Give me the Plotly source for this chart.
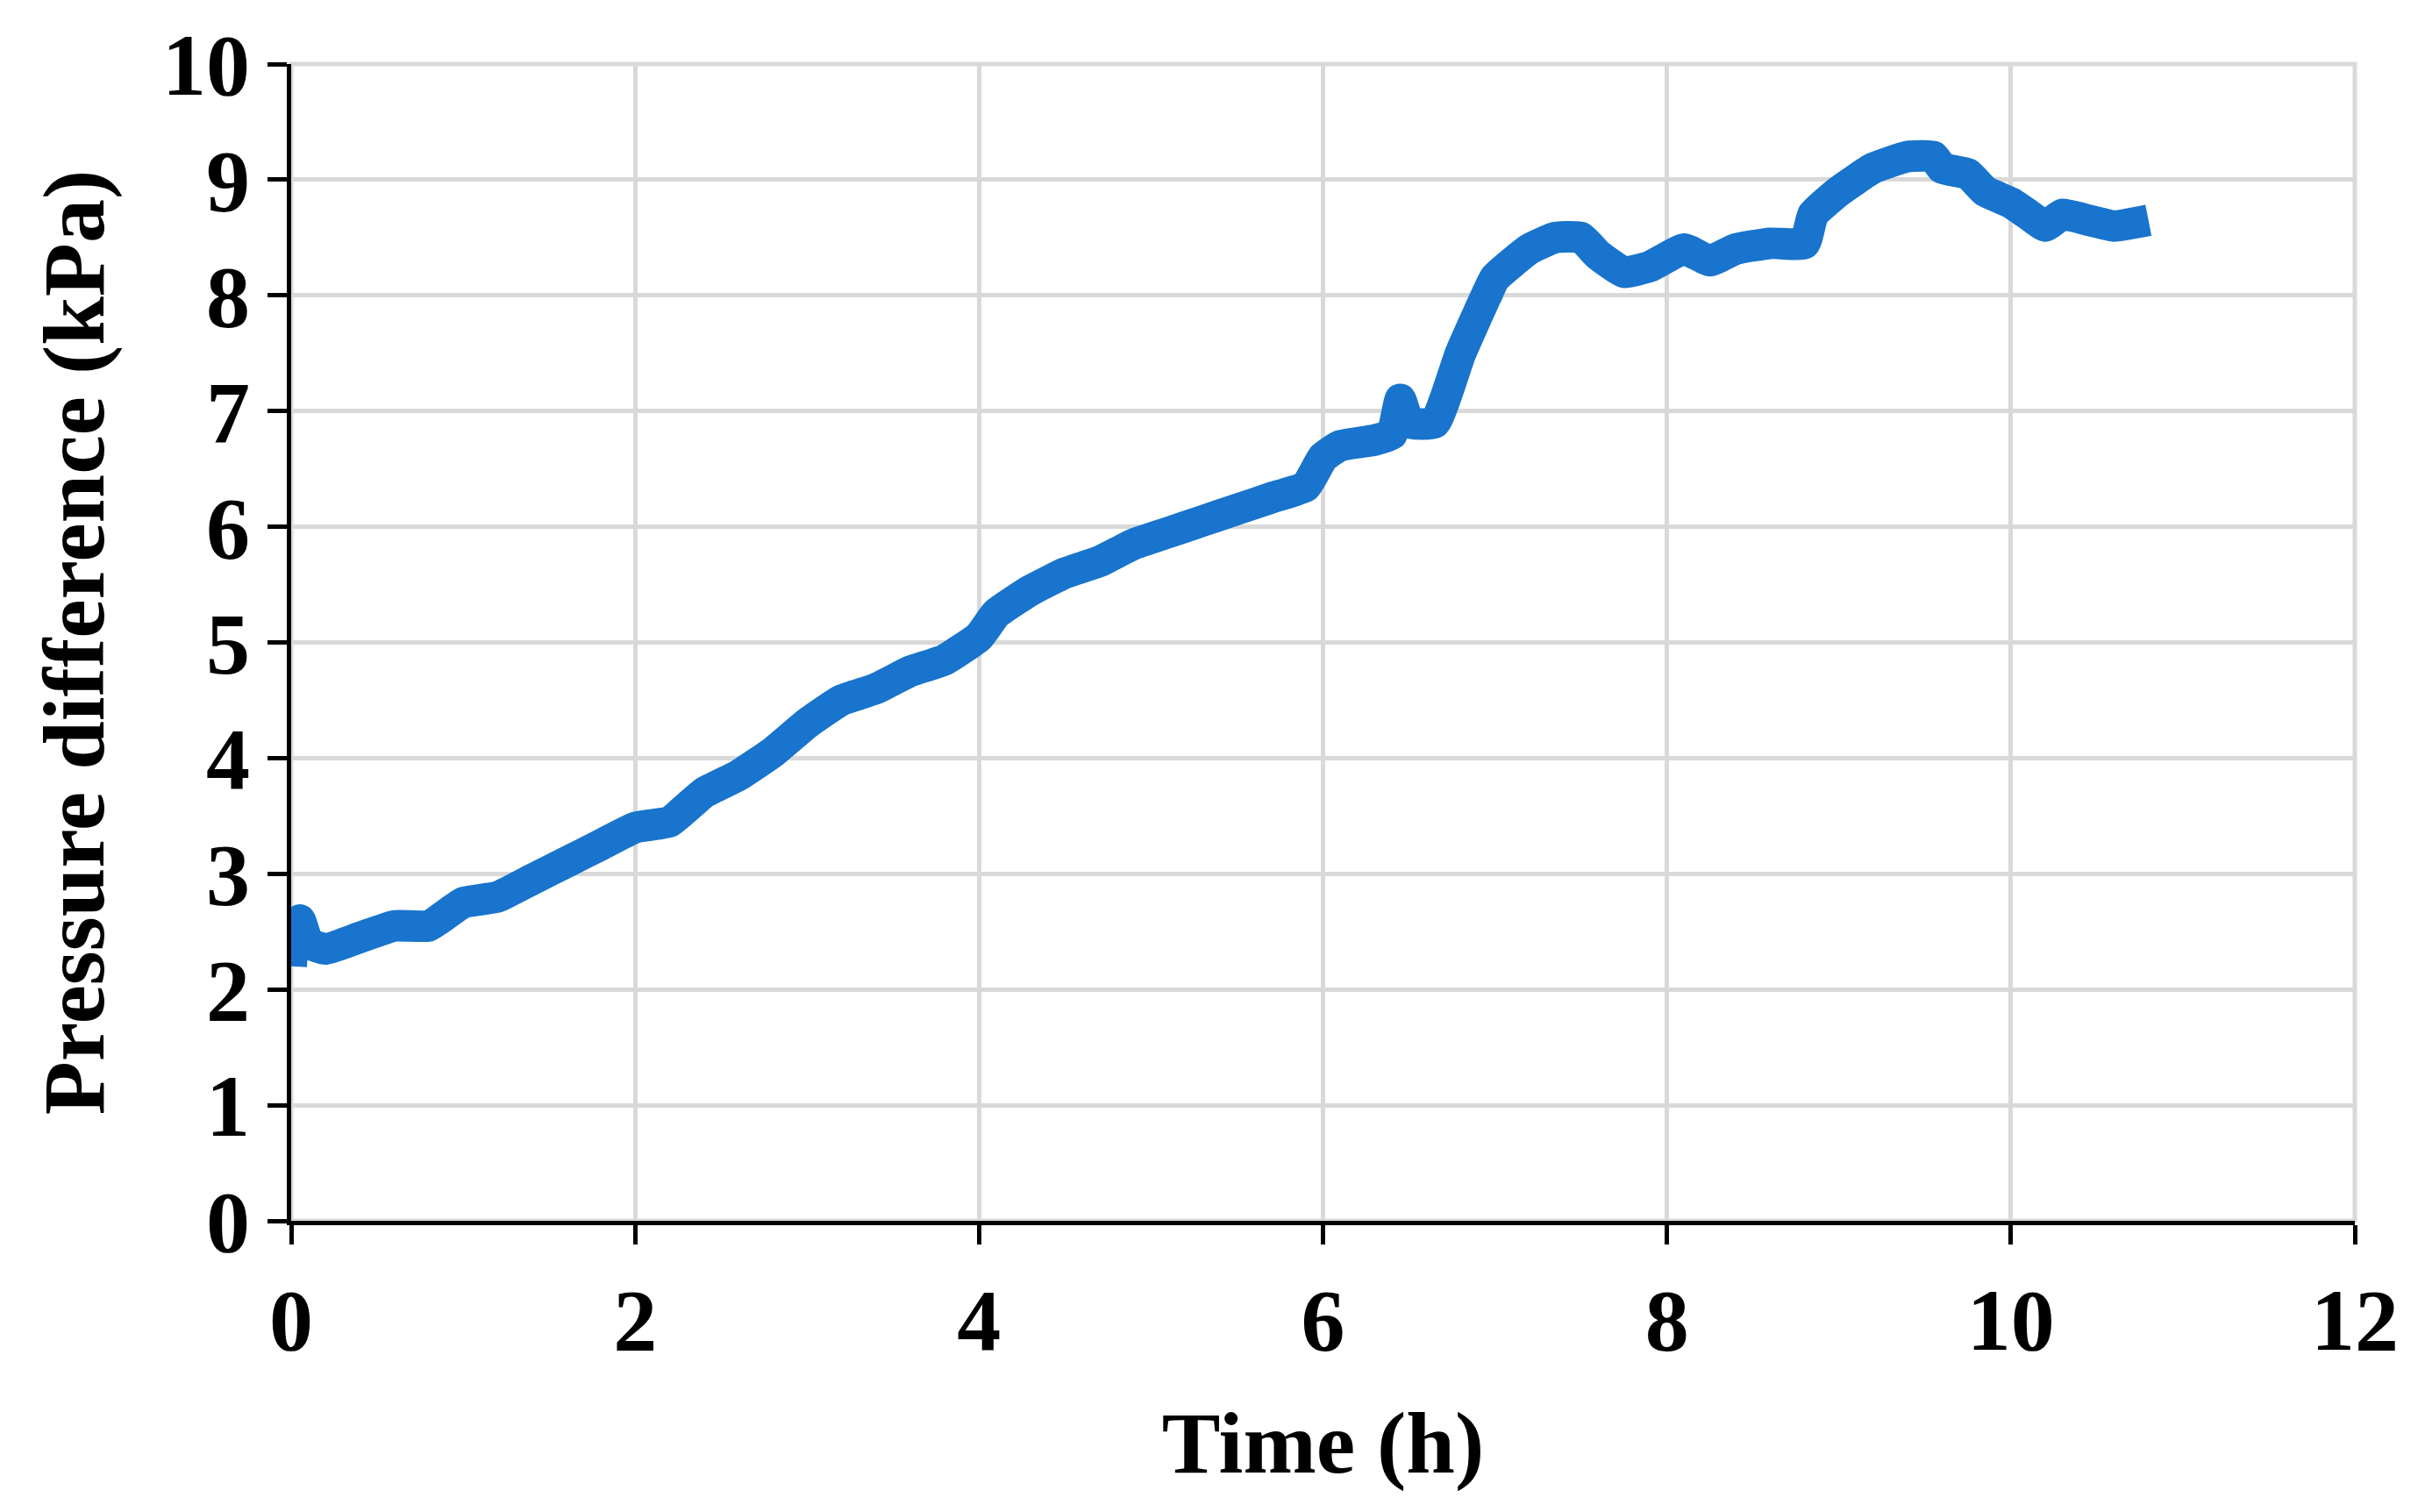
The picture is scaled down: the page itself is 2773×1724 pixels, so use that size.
import plotly.graph_objects as go

time_h = [0, 0.02, 0.05, 0.1, 0.2, 0.4, 0.6, 0.8, 1.0, 1.2, 1.4, 1.6, 1.8, 2.0, 2.2, 2.4,
          2.6, 2.8, 3.0, 3.2, 3.4, 3.6, 3.8, 4.0, 4.1, 4.3, 4.5, 4.7, 4.9, 5.1, 5.3, 5.5,
          5.7, 5.9, 6.0, 6.1, 6.3, 6.4, 6.45, 6.5, 6.65, 6.8, 6.95, 7.0, 7.2, 7.35, 7.5,
          7.6, 7.75, 7.9, 8.1, 8.25, 8.4, 8.6, 8.8, 8.85, 9.0, 9.2, 9.4, 9.55, 9.6, 9.75,
          9.85, 10.0, 10.1, 10.2, 10.3, 10.45, 10.6, 10.8]
pressure_kpa = [2.2, 2.55, 2.6, 2.4, 2.35, 2.45, 2.55, 2.55, 2.75, 2.8, 2.95, 3.1, 3.25, 3.4,
                3.45, 3.7, 3.85, 4.05, 4.3, 4.5, 4.6, 4.75, 4.85, 5.05, 5.25, 5.45, 5.6, 5.7,
                5.85, 5.95, 6.05, 6.15, 6.25, 6.35, 6.6, 6.7, 6.75, 6.8, 7.1, 6.9, 6.9, 7.5,
                8.0, 8.15, 8.4, 8.5, 8.5, 8.35, 8.2, 8.25, 8.4, 8.3, 8.4, 8.45, 8.45, 8.7,
                8.9, 9.1, 9.2, 9.2, 9.1, 9.05, 8.9, 8.8, 8.7, 8.6, 8.7, 8.65, 8.6, 8.65]

fnt = dict(family="Liberation Serif", color="black")

fig = go.Figure(go.Scatter(x=time_h, y=pressure_kpa, mode="lines",
                           line=dict(color="#1874CD", width=36, shape="spline", smoothing=0.4)))

fig.update_layout(
    width=2773, height=1724,
    margin=dict(l=324, r=96, t=65, b=340),
    plot_bgcolor="white", paper_bgcolor="white",
    showlegend=False,
    font=dict(family="Liberation Serif", color="black"),
)
fig.update_xaxes(
    range=[0, 12], dtick=2, showgrid=True, gridcolor="#d9d9d9", gridwidth=5,
    showline=True, linecolor="black", linewidth=5,
    ticks="outside", ticklen=22, tickwidth=5, tickcolor="black",
    tickfont=dict(fnt, size=100), zeroline=False,
    title=dict(text="<b>Time (h)</b>", font=dict(fnt, size=100), standoff=50),
    tickprefix="<b>", ticksuffix="</b>",
)
fig.update_yaxes(
    range=[0, 10], dtick=1, showgrid=True, gridcolor="#d9d9d9", gridwidth=5,
    showline=True, linecolor="black", linewidth=5,
    ticks="outside", ticklen=22, tickwidth=5, tickcolor="black",
    tickfont=dict(fnt, size=100), zeroline=False,
    title=dict(text="<b>Pressure difference (kPa)</b>", font=dict(fnt, size=100), standoff=35),
    tickprefix="<b>", ticksuffix="</b>",
)
fig.add_shape(type="rect", xref="paper", yref="paper", x0=0, y0=0, x1=1, y1=1,
              line=dict(color="#d9d9d9", width=5), layer="below")

fig.write_html("out.html")
